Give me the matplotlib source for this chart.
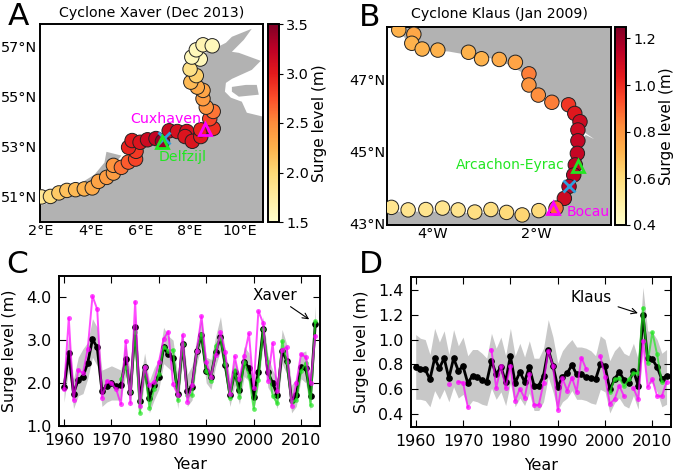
import numpy as np
import matplotlib
matplotlib.use('Agg')
import matplotlib.pyplot as plt

nan = np.nan

# Panel A, gauges along the North Sea coast
xaver_lon = [2.03, 2.39, 2.73, 3.05, 3.40, 3.75, 4.07, 4.32, 4.65, 4.92, 4.92, 5.24, 5.52, 5.81, 5.83, 5.53, 5.67,
             5.99, 6.29, 6.63, 6.89, 7.16, 7.49, 7.87, 7.80, 8.09, 8.43, 8.43, 8.93, 8.79, 8.93, 8.65, 8.52, 8.52,
             8.29, 8.03, 8.25, 8.00, 8.41, 8.07, 8.25, 8.52, 8.89]
xaver_lat = [51.00, 51.02, 51.16, 51.26, 51.29, 51.32, 51.36, 51.62, 51.78, 51.95, 52.26, 52.18, 52.39, 52.51, 52.82,
             52.98, 53.25, 53.18, 53.28, 53.33, 53.22, 53.64, 53.61, 53.61, 53.41, 53.22, 53.41, 53.68, 53.73, 54.12,
             54.41, 54.58, 54.92, 55.25, 55.38, 55.58, 55.84, 56.10, 56.50, 56.58, 56.87, 57.07, 57.03]
xaver_surge = [1.8, 1.95, 2.1, 2.15, 2.2, 2.25, 2.3, 2.35, 2.4, 2.4, 2.45, 2.6, 2.7, 2.8, 2.85, 2.95, 3.0,
               3.05, 3.15, 3.2, 3.4, 3.15, 3.1, 3.1, 3.05, 3.05, 3.0, 2.95, 2.9, 2.8, 2.6, 2.45, 2.4, 2.35,
               2.3, 2.2, 2.05, 1.9, 1.6, 1.6, 1.6, 1.65, 1.6]
land_a_lon = [1.96, 2.76, 3.64, 3.64, 4.16, 4.56, 4.64, 5.24, 4.96, 5.84, 5.68, 5.96, 6.76, 7.16, 7.84, 8.24, 9.04,
              8.88, 9.04, 8.64, 8.24, 8.24, 8.88, 9.44, 9.68, 10.48, 10.16, 9.96, 9.68, 9.96, 10.84, 10.48, 9.68,
              9.44, 9.40, 9.64, 10.08, 10.28, 10.95, 10.95, 1.95]
land_a_lat = [50.65, 50.89, 51.21, 51.57, 51.89, 52.37, 52.80, 52.65, 52.29, 52.49, 52.96, 53.20, 53.20, 53.60, 53.68,
              53.56, 53.60, 54.08, 54.48, 55.00, 55.79, 56.59, 56.87, 57.15, 57.39, 57.71, 57.27, 57.07, 56.79, 56.75,
              56.43, 56.07, 55.71, 55.55, 55.20, 54.96, 54.80, 54.36, 54.20, 50.0, 50.0]
island_lon = [9.68, 10.24, 10.68, 10.76, 9.96, 9.68]
island_lat = [55.39, 55.47, 55.47, 55.08, 55.00, 55.20]

# Panel B, gauges along the Bay of Biscay
klaus_lon = [-4.65, -4.36, -4.40, -4.20, -3.90, -3.31, -3.06, -2.72, -2.41, -2.15, -2.15, -1.97, -1.71, -1.39, -1.27,
             -1.17, -1.21, -1.21, -1.22, -1.26, -1.29, -1.38, -1.47, -1.63, -1.96, -2.28, -2.58, -2.88, -3.19, -3.51,
             -3.81, -4.13, -4.47, -4.79]
klaus_lat = [48.39, 48.27, 48.02, 47.86, 47.83, 47.77, 47.59, 47.57, 47.49, 47.17, 46.86, 46.58, 46.38, 46.31, 46.07,
             45.84, 45.61, 45.31, 44.96, 44.64, 44.36, 44.04, 43.71, 43.44, 43.37, 43.25, 43.32, 43.40, 43.33, 43.39,
             43.44, 43.40, 43.39, 43.46]
klaus_surge = [.72, .75, .72, .72, .72, .72, .72, .74, .76, .85, .8, .82, .85, .98, 1.05,
               1.1, 1.1, 1.12, 1.12, 1.13, 1.13, 1.15, 1.1, .88, .6, .62, .6, .58, .58, .55,
               .55, .55, .55, .55]
land_b_lon = [-4.74, -4.58, -4.42, -4.13, -3.69, -3.30, -2.98, -2.53, -2.31, -2.05, -2.02, -1.70, -1.38, -1.15, -1.08,
              -0.87, -0.64, -0.80, -1.06, -1.19, -1.17, -1.28, -1.41, -1.63, -1.96, -2.60, -3.24, -3.88, -4.87,
              -4.87, -0.58, -0.58]
land_b_lat = [48.48, 48.25, 47.97, 47.84, 47.79, 47.69, 47.65, 47.42, 47.23, 47.0, 46.72, 46.44, 46.31, 46.03, 45.54,
              45.33, 44.96, 45.29, 45.47, 45.15, 44.59, 44.04, 43.67, 43.34, 43.30, 43.31, 43.30, 43.34, 43.34,
              42.97, 42.97, 48.48]

years = list(range(1960, 2014))

# Panel C, yearly surge levels
c_mean = [1.9, 2.7, 1.75, 2.08, 2.15, 2.47, 3.02, 2.83, 1.82, 1.93, 2.0, 1.93, 1.95, 2.55, 1.78, 3.3, 1.58, 2.38,
          1.65, 1.95, 2.15, 2.83, 2.67, 2.58, 1.73, 2.92, 1.8, 1.9, 2.75, 3.12, 2.28, 2.15, 2.72, 3.08, 2.43, 1.72,
          2.25, 1.83, 2.5, 2.35, 1.68, 2.25, 3.25, 2.25, 2.0, 1.72, 2.75, 2.52, 1.6, 1.72, 2.38, 2.35, 1.7, 3.38]
c_magenta = [1.85, 3.52, 1.6, 2.3, 2.23, 2.8, 4.03, 3.72, 1.65, 2.05, 2.0, 1.85, 1.5, 2.98, 1.53, 3.9, 1.45, 2.38,
             1.95, 2.03, 2.48, 3.03, 3.2, 1.97, 1.72, 3.12, 1.56, 1.95, 2.75, 3.56, 2.48, 2.15, 2.65, 3.18, 2.73, 1.75,
             2.62, 2.1, 2.62, 3.16, 1.88, 3.68, 3.4, 2.05, 2.93, 1.8, 2.78, 2.83, 1.47, 2.0, 2.68, 2.6, 2.0, 3.1]
c_green = [nan] * 12 + [2.1, 2.37, 1.78, 3.2, 1.3, 2.38, 1.42, 1.85, 2.2, 2.85, 2.75, 2.77, 1.6, 2.9, 1.72, 1.72,
                        2.75, 3.15, 2.28, 2.05, 2.87, 3.05, 2.45, 1.65, 2.3, 1.68, 2.5, 2.17, 1.4, 2.08, 3.25, 2.5,
                        1.7, 1.52, 2.98, 2.5, 1.55, 1.6, 2.27, 2.47, 1.48, 3.45]
c_upper = [2.3, 3.1, 2.1, 2.6, 2.8, 2.95, 3.5, 3.3, 2.3, 2.35, 2.4, 2.35, 2.3, 2.95, 2.2, 3.6, 2.0, 2.7, 2.05, 2.35,
           2.55, 3.3, 3.1, 3.0, 2.15, 3.25, 2.2, 2.4, 3.05, 3.5, 2.6, 2.55, 3.1, 3.55, 2.75, 2.1, 2.55, 2.15, 2.85,
           2.7, 2.05, 2.55, 3.55, 2.65, 2.3, 2.1, 3.25, 2.9, 1.95, 2.1, 2.7, 2.75, 2.0, 3.8]
c_lower = [1.55, 2.35, 1.4, 1.7, 1.75, 2.1, 2.6, 2.4, 1.45, 1.55, 1.6, 1.6, 1.6, 2.2, 1.45, 3.0, 1.25, 2.05, 1.3, 1.6,
           1.85, 2.45, 2.35, 2.25, 1.4, 2.55, 1.45, 1.6, 2.45, 2.85, 2.0, 1.85, 2.4, 2.75, 2.15, 1.45, 1.95, 1.5, 2.15,
           2.05, 1.35, 1.95, 2.9, 1.9, 1.7, 1.4, 2.45, 2.2, 1.3, 1.45, 2.1, 2.0, 1.35, 3.05]

# Panel D, yearly surge levels
d_mean = [.78, .76, .76, .68, .85, .77, .85, .69, .85, .75, .785, .65, .71, .70, .675, .66, .83, .72, .78, .66, .87,
          .65, .74, .66, .78, .63, .63, .71, .92, .79, .62, .70, .73, .795, .72, .72, .70, .695, .68, .80, .785, .60,
          .68, .74, .675, .65, .75, .63, 1.2, .85, .84, .78, .68, .71]
d_magenta = [nan] * 7 + [.64, nan, .66, .655, .455, nan, nan, nan, nan, .92, .61, .785, .61, .79, .51, .605, .53, .72,
                         .475, .475, .65, .91, .79, .435, .69, .59, .695, .58, .855, .765, nan, nan, .865, .70, .485,
                         .52, .63, .545, nan, .61, .52, .99, .62, .68, .545, .545, .66]
d_green = [nan] * 41 + [.575, .68, .69, .625, .68, .73, .73, 1.255, .81, 1.06, .88, .66, nan]
d_upper = [1.04, 1.01, 1.0, .88, 1.09, .98, 1.07, .88, 1.08, .95, 1.02, .87, .92, .92, .89, .85, 1.05, .93, 1.02, .87,
           1.09, .87, .97, .86, .99, .85, .85, .93, 1.16, 1.02, .81, .91, .96, 1.0, .94, .94, .93, .91, .87, 1.03, 1.0,
           .83, .91, .95, .89, .87, .97, .84, 1.42, 1.07, 1.06, 1.0, .89, .92]
d_lower = [.52, .52, .51, .46, .59, .52, .6, .5, .62, .53, .56, .46, .51, .5, .48, .47, .61, .52, .58, .47, .65, .46,
           .53, .47, .57, .43, .43, .5, .7, .58, .43, .5, .53, .59, .52, .52, .51, .49, .48, .6, .58, .41, .49, .53,
           .47, .45, .55, .44, .97, .65, .65, .58, .46, .48]

W, H = 678, 476
LAND = '#b2b2b2'
MAGENTA = '#ff00ff'
GREEN = '#22e622'
BLUE = '#2e9fdc'
FS_MAP = 10.4
FS_SERIES = 11.4

plt.rcParams['font.family'] = 'DejaVu Sans'
plt.rcParams['axes.linewidth'] = 1.4

fig = plt.figure(figsize=(W / 100, H / 100), dpi=100)


def box(x0, x1, y0, y1):
    # pixel box of the picture to figure fractions
    return [x0 / W, 1 - y1 / H, (x1 - x0) / W, (y1 - y0) / H]


def draw_map(pos, cpos, lon, lat, surge, vmin, vmax, xlim, ylim, cticks):
    ax = fig.add_axes(box(*pos))
    sc = ax.scatter(lon, lat, c=surge, s=108, cmap='YlOrRd', vmin=vmin, vmax=vmax,
                    edgecolors='#222222', linewidths=0.7, zorder=3)
    ax.set_xlim(xlim)
    ax.set_ylim(ylim)
    ax.tick_params(length=0, pad=1.5, labelsize=FS_MAP)
    cax = fig.add_axes(box(*cpos))
    cb = fig.colorbar(sc, cax=cax, ticks=cticks)
    cb.ax.tick_params(length=3, direction='out', width=0.8, pad=2, labelsize=FS_MAP)
    cb.set_label('Surge level (m)', fontsize=11, labelpad=2)
    cb.outline.set_linewidth(1.4)
    return ax


# A
ax = draw_map((39.5, 263, 24, 222), (268, 279, 24, 222), xaver_lon, xaver_lat, xaver_surge, 1.5, 3.5,
              (1.95, 10.93), (50.0, 57.9), [1.5, 2.0, 2.5, 3.0, 3.5])
ax.fill(land_a_lon, land_a_lat, color=LAND, lw=0, zorder=1)
ax.fill(island_lon, island_lat, color=LAND, lw=0, zorder=1)
ax.set_xticks([2, 4, 6, 8, 10], ['2°E', '4°E', '6°E', '8°E', '10°E'])
ax.set_yticks([51, 53, 55, 57], ['51°N', '53°N', '55°N', '57°N'])
ax.set_title('Cyclone Xaver (Dec 2013)', fontsize=10.2, pad=5)
ax.plot(8.6, 53.7, '^', mfc='none', mec=MAGENTA, mew=2, ms=9, zorder=5)
ax.plot(6.87, 53.18, '^', mfc='none', mec=GREEN, mew=2, ms=9, zorder=5)
ax.plot(6.96, 53.35, 'x', color=BLUE, mew=2, ms=9, zorder=4)
ax.text(5.6, 53.95, 'Cuxhaven', color=MAGENTA, fontsize=10.2, zorder=6)
ax.text(6.73, 52.44, 'Delfzijl', color=GREEN, fontsize=10.2, zorder=6)
fig.text(8 / W, 1 - 25 / H, 'A', fontsize=22.5)

# B
ax = draw_map((387.3, 610.7, 26.7, 225), (615, 626, 26.7, 225), klaus_lon, klaus_lat, klaus_surge, 0.4, 1.25,
              (-4.87, -0.58), (42.97, 48.48), [0.4, 0.6, 0.8, 1.0, 1.2])
ax.fill(land_b_lon, land_b_lat, color=LAND, lw=0, zorder=1)
ax.set_xticks([-4, -2], ['4°W', '2°W'])
ax.set_yticks([43, 45, 47], ['43°N', '45°N', '47°N'])
ax.set_title('Cyclone Klaus (Jan 2009)', fontsize=10.2, pad=6)
ax.plot(-1.2, 44.62, '^', mfc='none', mec=GREEN, mew=2, ms=9, zorder=5)
ax.plot(-1.38, 44.04, 'x', color=BLUE, mew=2, ms=9, zorder=5)
ax.plot(-1.68, 43.45, '^', mfc='none', mec=MAGENTA, mew=2, ms=9, zorder=5)
ax.text(-3.55, 44.53, 'Arcachon-Eyrac', color=GREEN, fontsize=10, zorder=6)
ax.text(-1.43, 43.22, 'Bocau', color=MAGENTA, fontsize=10, zorder=6)
fig.text(359 / W, 1 - 26 / H, 'B', fontsize=22.5)


def draw_series(pos, mean, upper, lower, magenta, green, ylim, yticks, tip, start, label, label_at):
    ax = fig.add_axes(box(*pos))
    ax.fill_between(years, lower, upper, color='#c8c8c8', lw=0, zorder=1)
    ax.plot(years, mean, '-o', color='k', lw=2, ms=3.8, zorder=2)
    ax.plot(years, green, '-o', color=GREEN, lw=1.4, ms=3.4, mew=0, alpha=0.7, zorder=3)
    ax.plot(years, magenta, '-o', color=MAGENTA, lw=1.4, ms=3.6, mew=0, alpha=0.7, zorder=4)
    ax.set_xlim(1959, 2014)
    ax.set_ylim(ylim)
    ax.set_xticks(range(1960, 2011, 10))
    ax.set_yticks(yticks, ['%.1f' % t for t in yticks])
    ax.tick_params(direction='in', top=True, right=True, length=5, width=0.8, labelsize=FS_SERIES, pad=5.5)
    ax.set_xlabel('Year', fontsize=FS_SERIES, labelpad=6)
    ax.set_ylabel('Surge level (m)', fontsize=FS_SERIES, labelpad=6.5)
    ax.annotate('', xy=tip, xytext=start, arrowprops=dict(arrowstyle='->', color='k', lw=0.8), zorder=6)
    ax.text(label_at[0], label_at[1], label, fontsize=11, ha='center', va='center', zorder=6)
    return ax


# C
draw_series((59.3, 320, 276, 425.7), c_mean, c_upper, c_lower, c_magenta, c_green, (1.0, 4.5),
            [1.0, 2.0, 3.0, 4.0], (2012.2, 3.45), (2007.3, 3.82), 'Xaver', (2004.5, 4.05))
fig.text(6 / W, 1 - 273 / H, 'C', fontsize=22.5)

# D
draw_series((411, 671.3, 277.3, 426.7), d_mean, d_upper, d_lower, d_magenta, d_green, (0.3, 1.5),
            [0.4, 0.6, 0.8, 1.0, 1.2, 1.4], (2007.5, 1.205), (2002.2, 1.27), 'Klaus', (1997, 1.34))
fig.text(359 / W, 1 - 273 / H, 'D', fontsize=22.5)

plt.savefig('out.png', dpi=100)
